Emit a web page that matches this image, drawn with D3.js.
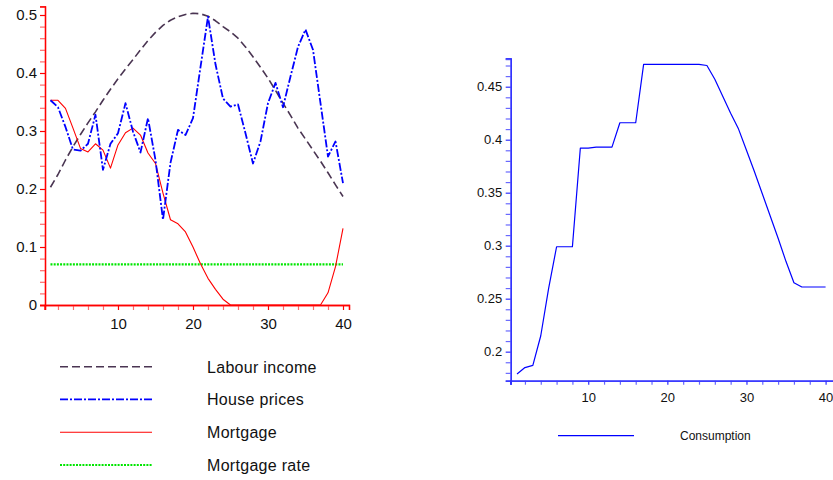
<!DOCTYPE html>
<html>
<head>
<meta charset="utf-8">
<script src="https://cdn.jsdelivr.net/npm/d3@7"></script>
<style>
  body { margin: 0; background: #fff; }
  svg text { font-family: "Liberation Sans", Arial, Helvetica, sans-serif; }
</style>
</head>
<body>
<svg id="chart" width="833" height="480"></svg>
<script>
// Periods (ages) shared by both panels
const periods = [1,2,3,4,5,6,7,8,9,10,11,12,13,14,15,16,17,18,19,20,
                 21,22,23,24,25,26,27,28,29,30,31,32,33,34,35,36,37,38,39,40];

// Left panel series
const labourIncome = [0.203,0.225,0.250,0.273,0.294,0.314,0.333,0.353,0.372,0.390,
                      0.407,0.423,0.440,0.456,0.470,0.482,0.491,0.497,0.501,0.503,
                      0.502,0.498,0.490,0.480,0.471,0.460,0.445,0.428,0.410,0.391,
                      0.370,0.348,0.327,0.305,0.286,0.267,0.248,0.228,0.207,0.187];
const housePrices = [0.353,0.341,0.307,0.268,0.266,0.278,0.328,0.233,0.278,0.296,
                     0.348,0.299,0.263,0.322,0.250,0.147,0.245,0.302,0.293,0.322,
                     0.410,0.497,0.415,0.356,0.342,0.346,0.296,0.244,0.282,0.348,
                     0.383,0.341,0.394,0.445,0.475,0.440,0.348,0.256,0.282,0.210];
const mortgage = [0.353,0.353,0.339,0.305,0.270,0.264,0.278,0.267,0.236,0.276,
                  0.297,0.305,0.293,0.262,0.244,0.193,0.147,0.140,0.126,0.100,
                  0.071,0.046,0.027,0.010,0.000,0.000,0.000,0.000,0.000,0.000,
                  0.000,0.000,0.000,0.000,0.000,0.000,0.000,0.021,0.066,0.132];
const mortgageRate = [0.07,0.07,0.07,0.07,0.07,0.07,0.07,0.07,0.07,0.07,
                      0.07,0.07,0.07,0.07,0.07,0.07,0.07,0.07,0.07,0.07,
                      0.07,0.07,0.07,0.07,0.07,0.07,0.07,0.07,0.07,0.07,
                      0.07,0.07,0.07,0.07,0.07,0.07,0.07,0.07,0.07,0.07];

// Right panel series
const consumption = [0.179,0.185,0.187,0.215,0.260,0.299,0.299,0.299,0.392,0.392,
                     0.393,0.393,0.393,0.416,0.416,0.416,0.471,0.471,0.471,0.471,
                     0.471,0.471,0.471,0.471,0.470,0.457,0.441,0.425,0.410,0.390,
                     0.370,0.349,0.328,0.307,0.285,0.265,0.261,0.261,0.261,0.261];

// Tick values
const leftYMajor = [0, 0.1, 0.2, 0.3, 0.4, 0.5];
const leftYMinor = [0.02,0.04,0.06,0.08,0.12,0.14,0.16,0.18,0.22,0.24,0.26,0.28,
                    0.32,0.34,0.36,0.38,0.42,0.44,0.46,0.48,0.515];
const xMajor = [10, 20, 30, 40];
const xMinor = [2,4,6,8,12,14,16,18,22,24,26,28,32,34,36,38];
const rightYMajor = [0.2, 0.25, 0.3, 0.35, 0.4, 0.45];
const rightYMinor = [0.18,0.19,0.21,0.22,0.23,0.24,0.26,0.27,0.28,0.29,0.31,0.32,0.33,0.34,
                     0.36,0.37,0.38,0.39,0.41,0.42,0.43,0.44,0.46,0.47,0.476];

const legendItems = [
  { name: "Labour income", key: "labour" },
  { name: "House prices",  key: "house" },
  { name: "Mortgage",      key: "mortgage" },
  { name: "Mortgage rate", key: "rate" }
];

const styles = {
  labour:   { stroke: "#4a3552", width: 1.6, dash: "8,4" },
  house:    { stroke: "#0000ff", width: 1.8, dash: "8,2,2,2" },
  mortgage: { stroke: "#ff0000", width: 1.1, dash: null },
  rate:     { stroke: "#00e600", width: 2.2, dash: "2,1.2" },
  cons:     { stroke: "#0000ff", width: 1.2, dash: null }
};

const svg = d3.select("#chart");

function styleAxis(g, color, fontSize) {
  g.select(".domain").attr("stroke", color).attr("stroke-width", 1.3);
  g.selectAll(".tick line").attr("stroke", color).attr("stroke-width", 1.2);
  g.selectAll(".tick text").attr("fill", "#111").style("font-size", fontSize + "px");
}

// ---------- Left panel ----------
const xL = d3.scaleLinear().domain([0.27, 40.8]).range([45, 349]);
const yL = d3.scaleLinear().domain([0, 0.515]).range([305, 6.3]);

const left = svg.append("g");

// minor ticks
left.append("g").attr("transform", `translate(${xL.range()[0]},0)`)
  .call(d3.axisLeft(yL).tickValues(leftYMinor).tickSize(5).tickFormat(""))
  .call(g => { styleAxis(g, "#ff0000", 15); g.selectAll(".tick line").attr("stroke", "#ff6a6a"); });
left.append("g").attr("transform", `translate(0,${yL(0)})`)
  .call(d3.axisBottom(xL).tickValues(xMinor).tickSize(5).tickFormat(""))
  .call(g => { styleAxis(g, "#ff0000", 15); g.selectAll(".tick line").attr("stroke", "#ff6a6a"); });

// major ticks with labels
left.append("g").attr("transform", `translate(${xL.range()[0]},0)`)
  .call(d3.axisLeft(yL).tickValues(leftYMajor).tickSize(5).tickPadding(3)
        .tickFormat(d => d === 0 ? "0" : d3.format(".1f")(d)))
  .call(g => styleAxis(g, "#ff0000", 15));
left.append("g").attr("transform", `translate(0,${yL(0)})`)
  .call(d3.axisBottom(xL).tickValues(xMajor).tickSize(5).tickPadding(8))
  .call(g => styleAxis(g, "#ff0000", 15));

// corner extension of the vertical axis below zero
left.append("line")
  .attr("x1", xL.range()[0]).attr("x2", xL.range()[0])
  .attr("y1", yL(0)).attr("y2", yL(0) + 5)
  .attr("stroke", "#ff0000").attr("stroke-width", 1.3);

const lineL = ys => d3.line().x((d, i) => xL(periods[i])).y(d => yL(d))(ys);

const leftSeries = [
  { key: "labour", values: labourIncome },
  { key: "rate", values: mortgageRate },
  { key: "mortgage", values: mortgage },
  { key: "house", values: housePrices }
];
leftSeries.forEach(s => {
  const st = styles[s.key];
  left.append("path")
    .attr("d", lineL(s.values))
    .attr("fill", "none")
    .attr("stroke", st.stroke)
    .attr("stroke-width", st.width)
    .attr("stroke-dasharray", st.dash)
    .attr("stroke-linejoin", "round");
});

// legend
const legY = d3.scalePoint().domain(legendItems.map(d => d.key)).range([366.7, 465]);
const legend = left.append("g");
legendItems.forEach(item => {
  const st = styles[item.key];
  legend.append("line")
    .attr("x1", 60).attr("x2", 152)
    .attr("y1", legY(item.key)).attr("y2", legY(item.key))
    .attr("stroke", st.stroke)
    .attr("stroke-width", st.width)
    .attr("stroke-dasharray", st.dash);
  legend.append("text")
    .attr("x", 207).attr("y", legY(item.key) + 5.8)
    .style("font-size", "16px")
    .style("letter-spacing", "0.3px")
    .attr("fill", "#111")
    .text(item.name);
});

// ---------- Right panel ----------
const xR = d3.scaleLinear().domain([0.2, 41]).range([510.7, 833.5]);
const yR = d3.scaleLinear().domain([0.1726, 0.4768]).range([380.7, 58.3]);

const right = svg.append("g");

right.append("g").attr("transform", `translate(${xR.range()[0]},0)`)
  .call(d3.axisLeft(yR).tickValues(rightYMinor).tickSize(5).tickFormat(""))
  .call(g => { styleAxis(g, "#2f2fff", 13); g.selectAll(".tick line").attr("stroke", "#6868ff"); });
right.append("g").attr("transform", `translate(0,${yR.range()[0]})`)
  .call(d3.axisBottom(xR).tickValues(xMinor).tickSize(4).tickFormat(""))
  .call(g => { styleAxis(g, "#2f2fff", 13); g.selectAll(".tick line").attr("stroke", "#6868ff"); });

right.append("g").attr("transform", `translate(${xR.range()[0]},0)`)
  .call(d3.axisLeft(yR).tickValues(rightYMajor).tickSize(5).tickPadding(3.5)
        .tickFormat(d => String(+d.toFixed(2))))
  .call(g => styleAxis(g, "#2f2fff", 13));
right.append("g").attr("transform", `translate(0,${yR.range()[0]})`)
  .call(d3.axisBottom(xR).tickValues(xMajor).tickSize(4).tickPadding(8))
  .call(g => styleAxis(g, "#2f2fff", 13));

right.append("line")
  .attr("x1", xR.range()[0]).attr("x2", xR.range()[0])
  .attr("y1", yR.range()[0]).attr("y2", yR.range()[0] + 4)
  .attr("stroke", "#2f2fff").attr("stroke-width", 1.3);

right.append("path")
  .attr("d", d3.line().x((d, i) => xR(periods[i])).y(d => yR(d))(consumption))
  .attr("fill", "none")
  .attr("stroke", styles.cons.stroke)
  .attr("stroke-width", styles.cons.width)
  .attr("stroke-linejoin", "round");

right.append("line")
  .attr("x1", 558).attr("x2", 634).attr("y1", 435.7).attr("y2", 435.7)
  .attr("stroke", styles.cons.stroke).attr("stroke-width", styles.cons.width);
right.append("text")
  .attr("x", 680).attr("y", 440.3)
  .style("font-size", "12px")
  .attr("fill", "#111")
  .text("Consumption");
</script>
</body>
</html>
